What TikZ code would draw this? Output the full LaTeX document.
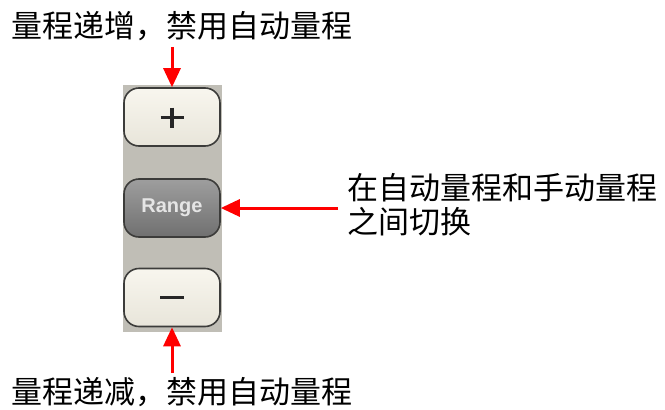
\documentclass[tikz,border=0pt]{standalone}
\usepackage{fontspec}
\setmainfont{Noto Sans CJK SC}
\setsansfont{Liberation Sans}
\usetikzlibrary{calc,positioning,arrows.meta}

\definecolor{panelgray}{RGB}{192,190,182}
\definecolor{keycream}{RGB}{248,246,238}
\definecolor{keycreamdark}{RGB}{232,229,218}
\definecolor{keyedge}{RGB}{60,60,58}
\definecolor{rangetop}{RGB}{158,158,158}
\definecolor{rangebot}{RGB}{112,112,112}

\tikzset{
  key/.style={draw=keyedge, line width=1.6pt, rounded corners=15pt,
    minimum width=96pt, minimum height=58pt, inner sep=0pt},
  creamkey/.style={key, top color=keycream, bottom color=keycreamdark},
  rangekey/.style={key, top color=rangetop, bottom color=rangebot,
    text=white!90!black, font=\sffamily\bfseries\fontsize{20}{20}\selectfont},
  label/.style={inner sep=0pt, anchor=west, font=\fontsize{31}{34}\selectfont},
  glyph/.style={line width=3.2pt, color=black!85},
  pointer/.style={draw=red, line width=3pt,
    -{Triangle[length=19pt,width=17pt]}}
}

\begin{document}
\begin{tikzpicture}[x=1pt,y=-1pt]
  \useasboundingbox (0,0) rectangle (665,410);

  % panel and keys
  \node [fill=panelgray, minimum width=99pt, minimum height=247pt, inner sep=0pt] (panel) at (172.5,208.5) {};
  \node [creamkey] at (172,117) (plus) {};
  \node [rangekey] at (172,208) (range) {Range};
  \node [creamkey] at (172,297.5) (minus) {};
  \draw [glyph] ($(plus.center)+(-11.5,0.5)$) -- ($(plus.center)+(11.5,0.5)$);
  \draw [glyph] ($(plus.center)+(0,-9.5)$) -- ($(plus.center)+(0,10.5)$);
  \draw [glyph] ($(minus.center)+(-12,0)$) -- ($(minus.center)+(12,0)$);

  % labels
  \node [label] at (11,26) (inclabel) {量程递增，禁用自动量程};
  \node [label, align=left] at (347,205) (modelabel) {在自动量程和手动量程\\之间切换};
  \node [label] at (11,392) (declabel) {量程递减，禁用自动量程};

  % pointers
  \draw [pointer] ([yshift=-6pt]inclabel.south -| plus.north) -- (plus.north);
  \draw [pointer] ([xshift=-9pt]modelabel.west |- range.east) -- (range.east);
  \draw [pointer] ([yshift=4pt]declabel.north -| minus.south) -- (minus.south);

\end{tikzpicture}
\end{document}
